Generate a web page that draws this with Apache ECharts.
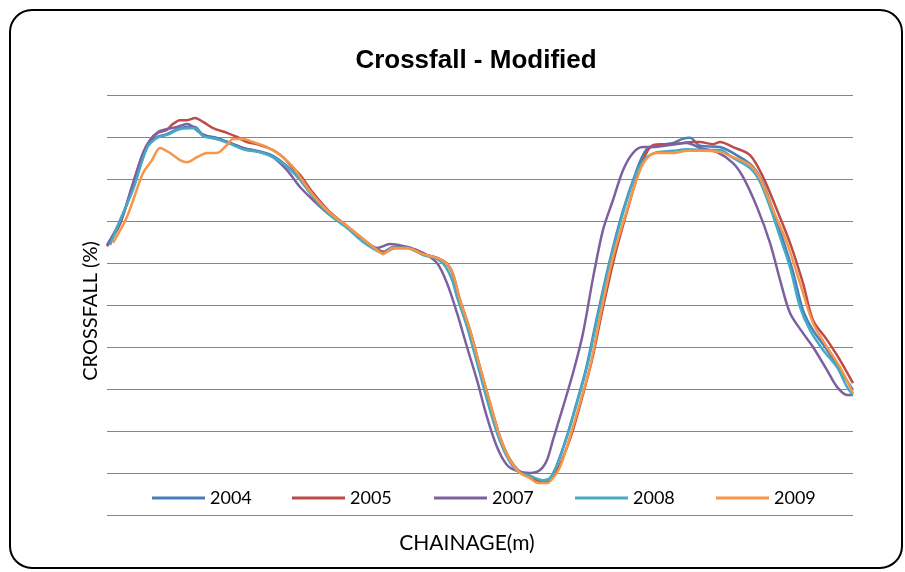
<!DOCTYPE html>
<html>
<head>
<meta charset="utf-8">
<script src="https://cdn.jsdelivr.net/npm/echarts@6/dist/echarts.min.js"></script>
<style>
html,body{margin:0;padding:0;background:#fff;}
#chart{width:905px;height:572px;}
</style>
</head>
<body>
<div id="chart"></div>
<script>
const seriesNames = ["2004", "2005", "2007", "2008", "2009"];
const seriesColors = ["#4A7EBB", "#BE4B48", "#7D60A0", "#46AAC5", "#F79646"];

// [chainage, crossfall %]
const s2004 = [[1,1.45],[13,2.0],[26,2.79],[40,3.76],[50,4.0],[60,4.07],[73,4.21],[83,4.24],[88,4.24],[96,4.05],[110,3.98],[126,3.83],[136,3.74],[156,3.64],[166,3.55],[180,3.31],[193,3.0],[206,2.6],[223,2.17],[240,1.86],[256,1.52],[270,1.31],[276,1.26],[286,1.38],[300,1.38],[316,1.21],[330,1.12],[340,0.98],[346,0.74],[352,0.17],[362,-0.55],[372,-1.43],[382,-2.29],[392,-3.1],[402,-3.64],[412,-3.95],[423,-4.07],[434,-4.17],[442,-4.14],[449,-3.86],[459,-3.19],[469,-2.38],[479,-1.52],[489,-0.4],[502,0.98],[515,2.17],[529,3.17],[539,3.69],[549,3.79],[559,3.83],[566,3.86],[575,3.95],[583,3.98],[593,3.79],[613,3.76],[633,3.52],[646,3.29],[656,2.9],[666,2.26],[676,1.55],[686,0.79],[696,-0.12],[706,-0.6],[720,-1.07],[733,-1.55],[746,-2.02]];
const s2005 = [[0,1.4],[13,1.93],[26,2.88],[36,3.6],[43,3.9],[51,4.1],[60,4.17],[65,4.29],[73,4.4],[80,4.4],[88,4.45],[96,4.36],[106,4.21],[120,4.1],[130,4.0],[140,3.88],[153,3.81],[166,3.69],[176,3.52],[186,3.26],[193,3.1],[206,2.67],[223,2.21],[240,1.88],[256,1.57],[270,1.33],[278,1.26],[288,1.36],[300,1.36],[316,1.21],[330,1.12],[340,0.98],[346,0.71],[353,0.12],[363,-0.6],[373,-1.48],[383,-2.33],[393,-3.14],[403,-3.69],[413,-3.98],[423,-4.1],[433,-4.19],[441,-4.19],[448,-4.02],[455,-3.69],[465,-3.05],[475,-2.21],[485,-1.31],[495,-0.17],[508,1.19],[521,2.31],[533,3.26],[543,3.76],[553,3.83],[563,3.83],[576,3.86],[586,3.88],[593,3.88],[606,3.83],[613,3.88],[626,3.76],[643,3.57],[656,3.05],[670,2.26],[683,1.48],[696,0.52],[706,-0.36],[720,-0.83],[733,-1.31],[746,-1.86]];
const s2007 = [[0,1.43],[13,1.95],[26,2.9],[36,3.62],[43,3.93],[51,4.12],[60,4.19],[70,4.24],[80,4.31],[85,4.26],[93,4.1],[103,4.0],[120,3.88],[136,3.74],[153,3.64],[166,3.52],[180,3.21],[193,2.81],[206,2.5],[223,2.14],[240,1.86],[256,1.55],[270,1.36],[283,1.45],[300,1.38],[316,1.24],[330,1.0],[340,0.52],[350,-0.19],[360,-1.0],[370,-1.79],[380,-2.67],[390,-3.38],[400,-3.81],[410,-3.95],[423,-4.0],[433,-3.93],[440,-3.69],[446,-3.21],[456,-2.43],[466,-1.62],[476,-0.67],[486,0.64],[496,1.79],[506,2.5],[516,3.21],[526,3.62],[536,3.76],[546,3.76],[563,3.81],[580,3.86],[593,3.74],[610,3.64],[626,3.38],[636,3.05],[650,2.33],[663,1.48],[673,0.6],[683,-0.19],[696,-0.67],[706,-1.0],[720,-1.55],[730,-1.95],[740,-2.14],[746,-2.14]];
const s2008 = [[3,1.43],[13,2.02],[26,2.74],[40,3.74],[50,3.98],[60,4.05],[73,4.19],[83,4.21],[88,4.21],[96,4.02],[110,3.95],[126,3.81],[136,3.71],[156,3.62],[166,3.52],[180,3.29],[193,2.98],[206,2.57],[223,2.14],[240,1.83],[256,1.5],[270,1.29],[276,1.24],[286,1.36],[300,1.36],[316,1.19],[330,1.1],[338,0.93],[345,0.6],[350,0.19],[360,-0.52],[370,-1.38],[380,-2.26],[390,-3.05],[400,-3.62],[410,-3.95],[423,-4.07],[436,-4.17],[443,-4.12],[450,-3.81],[460,-3.14],[470,-2.33],[480,-1.48],[490,-0.36],[503,1.02],[516,2.19],[530,3.17],[540,3.52],[550,3.64],[566,3.67],[580,3.71],[593,3.69],[613,3.69],[626,3.5],[643,3.26],[653,2.93],[663,2.33],[673,1.62],[683,0.9],[693,-0.05],[703,-0.6],[716,-1.07],[730,-1.48],[740,-1.95],[746,-2.14]];
const s2009 = [[6,1.48],[20,2.1],[36,3.14],[45,3.45],[53,3.74],[63,3.62],[73,3.45],[80,3.4],[90,3.52],[100,3.62],[110,3.62],[120,3.81],[126,3.95],[136,3.95],[146,3.88],[160,3.76],[173,3.57],[186,3.29],[193,3.05],[206,2.62],[223,2.19],[240,1.88],[256,1.57],[270,1.31],[276,1.21],[286,1.36],[300,1.36],[316,1.21],[330,1.12],[340,0.98],[346,0.74],[353,0.12],[363,-0.6],[373,-1.48],[383,-2.33],[393,-3.14],[403,-3.69],[413,-4.0],[423,-4.12],[431,-4.24],[440,-4.24],[446,-4.12],[453,-3.86],[463,-3.14],[473,-2.33],[483,-1.48],[493,-0.29],[506,1.14],[520,2.26],[533,3.21],[541,3.52],[550,3.62],[566,3.62],[580,3.67],[593,3.67],[613,3.64],[626,3.52],[643,3.33],[653,3.02],[666,2.26],[680,1.48],[693,0.52],[706,-0.43],[720,-1.0],[733,-1.48],[746,-2.1]];
const seriesData = [s2004, s2005, s2007, s2008, s2009];

const legendLefts = [152, 292, 434, 575, 716];

const chart = echarts.init(document.getElementById('chart'), null, {renderer: 'canvas'});

const option = {
  backgroundColor: '#ffffff',
  animation: false,
  title: {
    text: 'Crossfall - Modified',
    left: 471,
    top: 43,
    textAlign: 'center',
    textStyle: {fontFamily: 'Liberation Sans', fontWeight: 'bold', fontSize: 26, color: '#000'}
  },
  graphic: [{
    type: 'rect',
    shape: {x: 10, y: 10, width: 892, height: 558, r: 22},
    style: {fill: 'none', stroke: '#000', lineWidth: 2},
    silent: true,
    z: -1
  }],
  legend: seriesNames.map((n, i) => ({
    data: [n],
    left: legendLefts[i],
    top: 489,
    padding: 0,
    icon: 'rect',
    itemWidth: 53,
    itemHeight: 3,
    itemGap: 0,
    textStyle: {fontFamily: 'Lato', fontSize: 18, color: '#000'}
  })),
  grid: {left: 107, right: 52, top: 95, bottom: 57},
  xAxis: {
    type: 'value',
    min: 0,
    max: 746,
    name: 'CHAINAGE(m)',
    nameLocation: 'middle',
    nameGap: 18,
    nameTextStyle: {fontFamily: 'Lato', fontSize: 21, color: '#000', padding: [0, 26, 0, 0]},
    axisLine: {show: true, lineStyle: {color: '#868686', width: 1}},
    axisTick: {show: false},
    axisLabel: {show: false},
    splitLine: {show: false}
  },
  yAxis: {
    type: 'value',
    min: -5,
    max: 5,
    interval: 1,
    name: 'CROSSFALL (%)',
    nameLocation: 'middle',
    nameGap: 6,
    nameRotate: 90,
    nameTextStyle: {fontFamily: 'Lato', fontSize: 20, color: '#000', padding: [0, 12, 0, 0]},
    axisLine: {show: false},
    axisTick: {show: false},
    axisLabel: {show: false},
    splitLine: {show: true, lineStyle: {color: '#868686', width: 1}}
  },
  series: seriesNames.map((n, i) => ({
    name: n,
    type: 'line',
    data: seriesData[i],
    smooth: 0.3,
    showSymbol: false,
    symbol: 'none',
    lineStyle: {color: seriesColors[i], width: 2.5},
    itemStyle: {color: seriesColors[i]},
    z: 2 + i
  }))
};
chart.setOption(option);
</script>
</body>
</html>
